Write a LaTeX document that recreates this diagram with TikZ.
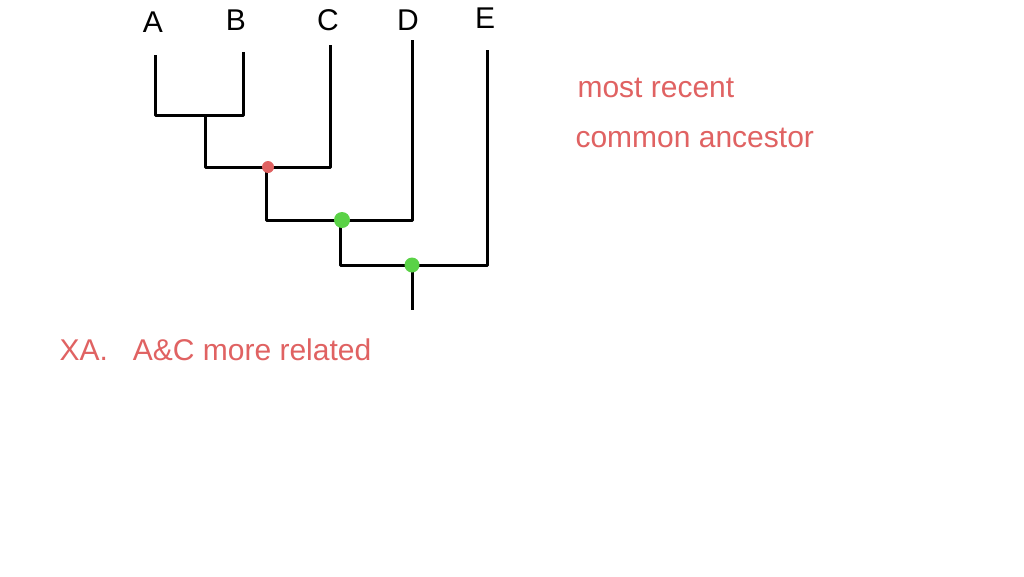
\documentclass[tikz,border=0pt]{standalone}
\usepackage{fontspec}
\setmainfont{Liberation Sans}
\definecolor{redink}{RGB}{224,98,98}
\definecolor{greenink}{RGB}{90,210,70}
\begin{document}
\begin{tikzpicture}[x=1pt,y=-1pt,
  br/.style={line width=3pt,black,line join=round},
  lab/.style={font=\fontsize{30}{32}\selectfont},
  note/.style={font=\fontsize{30}{32}\selectfont,text=redink,anchor=west},
  dot/.style={circle,inner sep=0pt}]
\useasboundingbox[fill=white] (0,0) rectangle (1024,576);
\node[lab] (A) at (153,22) {A};
\node[lab] (B) at (236,20) {B};
\node[lab] (C) at (328,20) {C};
\node[lab] (D) at (408,20) {D};
\node[lab] (E) at (485,18) {E};
\coordinate (ab) at (205,115);
\coordinate (abc) at (268,167);
\coordinate (abcd) at (342,220);
\coordinate (root) at (412,265);
\draw[br] (155,55) |- (ab) -| (243,52);
\draw[br] (ab) |- (abc) -| (330,45);
\draw[br] (266,167) |- (abcd) -| (412,40);
\draw[br] (340,220) |- (root) -| (487,50);
\draw[br] (root) -- ++(0,45);
\fill[redink] (abc) circle (6pt);
\fill[greenink] (abcd) circle (8pt);
\fill[greenink] (root) circle (7.5pt);
\node[note] (n1) at (574,88) {most recent};
\node[note] (n2) at (572,138) {common ancestor};
\node[note] (n3) at (56,350) {XA.\hspace{25pt}A\&C more related};
\end{tikzpicture}
\end{document}
